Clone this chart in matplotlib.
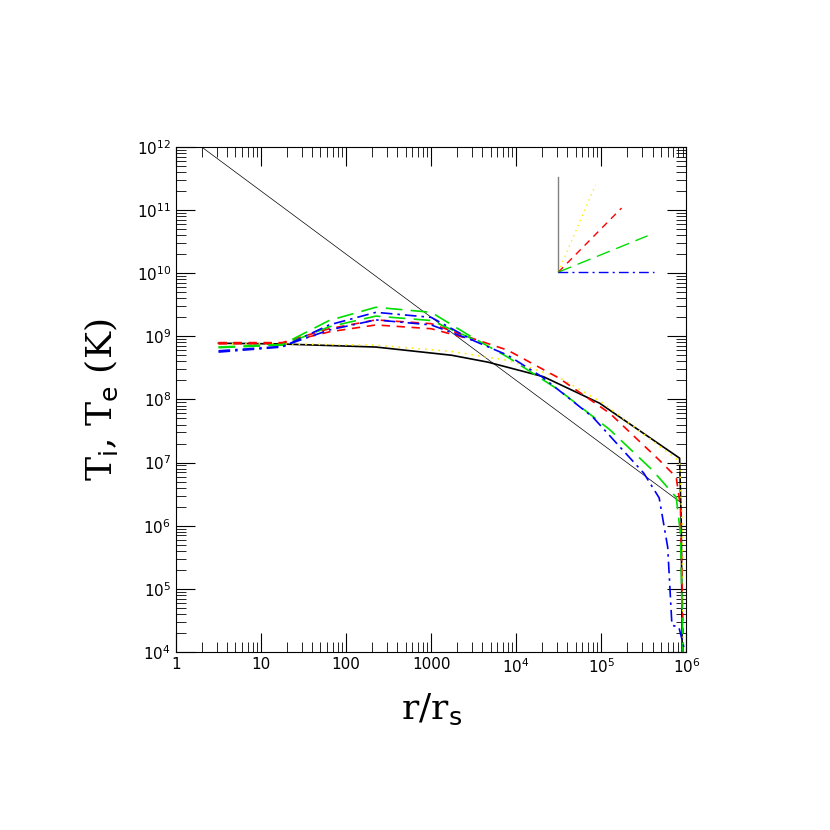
import numpy as np
import matplotlib
matplotlib.use("Agg")
import matplotlib.pyplot as plt
from matplotlib.ticker import LogLocator, FixedLocator, NullFormatter

# log10(r/rs), log10(T)
black_lr = [0.5, 1.2, 2.35, 3.24, 3.67, 4.32, 4.98, 5.92, 5.94, 5.95]
black_lT = [8.89, 8.88, 8.83, 8.70, 8.59, 8.36, 7.94, 7.07, 6.0, 4.0]
yellow_lr = [0.5, 1.2, 2.35, 3.24, 3.9, 4.5, 5.0, 5.92, 5.95, 5.96]
yellow_lT = [8.88, 8.88, 8.86, 8.76, 8.62, 8.35, 7.96, 7.02, 6.0, 4.1]
red1_lr = [0.5, 1.25, 1.8, 2.35, 3.0, 3.5, 3.9, 4.5, 5.1, 5.68, 5.88, 5.93, 5.96]
red1_lT = [8.90, 8.90, 9.12, 9.26, 9.20, 8.96, 8.78, 8.34, 7.78, 7.04, 6.77, 6.3, 4.3]
red2_lr = [0.5, 1.25, 1.8, 2.35, 3.0, 3.5]
red2_lT = [8.88, 8.89, 9.07, 9.18, 9.12, 8.94]
green1_lr = [0.5, 1.25, 1.8, 2.35, 3.0, 3.5, 3.9, 4.5, 5.1, 5.6, 5.88, 5.93, 5.96]
green1_lT = [8.83, 8.87, 9.25, 9.46, 9.38, 8.97, 8.67, 8.15, 7.52, 6.88, 6.45, 5.88, 4.0]
green2_lr = [0.5, 1.25, 1.8, 2.35, 3.0, 3.5]
green2_lT = [8.82, 8.86, 9.15, 9.32, 9.25, 8.95]
blue1_lr = [0.5, 1.25, 1.8, 2.35, 3.0, 3.5, 3.9, 4.3, 4.9, 5.5, 5.68, 5.78, 5.83, 5.91, 5.97]
blue1_lT = [8.75, 8.83, 9.18, 9.38, 9.30, 8.93, 8.70, 8.36, 7.72, 6.83, 6.44, 5.66, 4.42, 4.40, 4.08]
blue2_lr = [0.5, 1.25, 1.8, 2.35, 3.0, 3.5]
blue2_lT = [8.77, 8.84, 9.10, 9.26, 9.18, 8.93]
thin_r = [2.0, 8.7e5]
thin_T = [1e12, 2.3e6]

xticks = [1, 10, 100, 1000, 1e4, 1e5, 1e6]
xlabels = ["1", "10", "100", "1000", "$10^4$", "$10^5$", "$10^6$"]
yticks = [10.0**k for k in range(4, 13)]
ylabels = ["$10^{%d}$" % k for k in range(4, 13)]

plt.rcParams['font.family'] = ['DejaVu Sans']
fig = plt.figure(figsize=(8.3, 8.3), dpi=100)
ax = fig.add_axes([0.212, 0.2145, 0.615, 0.6085])

def P(lr, lT, **kw):
    ax.plot(10.0**np.array(lr), 10.0**np.array(lT), **kw)

ax.plot(thin_r, thin_T, color="black", lw=0.5)
P(black_lr, black_lT, color="black", lw=1.2)
P(yellow_lr, yellow_lT, color="#ffee00", lw=1.2, ls=(0, (1, 3)))
P(red1_lr, red1_lT, color="red", lw=1.2, ls=(0, (5, 4)))
P(red2_lr, red2_lT, color="red", lw=1.2, ls=(0, (5, 4)))
P(green1_lr, green1_lT, color="#00dd00", lw=1.2, ls=(0, (10, 5)))
P(green2_lr, green2_lT, color="#00dd00", lw=1.2, ls=(0, (10, 5)))
P(blue1_lr, blue1_lT, color="blue", lw=1.2, ls=(0, (7, 3, 1.5, 3)))
P(blue2_lr, blue2_lT, color="blue", lw=1.2, ls=(0, (7, 3, 1.5, 3)))

# legend-like fan
ox, oy = 0.749, 0.752
T = ax.transAxes
ax.plot([ox, ox], [oy, 0.941], color="gray", lw=1, transform=T)
ax.plot([ox, 0.822], [oy, 0.925], color="#ffee00", lw=1, ls=(0, (1, 3)), transform=T)
ax.plot([ox, 0.873], [oy, 0.879], color="red", lw=1, ls=(0, (5, 4)), transform=T)
ax.plot([ox, 0.924], [oy, 0.824], color="#00dd00", lw=1, ls=(0, (10, 5)), transform=T)
ax.plot([ox, 0.937], [oy, oy], color="blue", lw=1, ls=(0, (7, 3, 1.5, 3)), transform=T)

ax.set_xscale("log"); ax.set_yscale("log")
ax.set_xlim(1, 1e6); ax.set_ylim(1e4, 1e12)
ax.xaxis.set_major_locator(FixedLocator(xticks))
ax.set_xticklabels(xlabels)
ax.yaxis.set_major_locator(FixedLocator(yticks))
ax.set_yticklabels(ylabels)
ax.xaxis.set_minor_locator(LogLocator(base=10, subs=np.arange(2, 10), numticks=20))
ax.yaxis.set_minor_locator(LogLocator(base=10, subs=np.arange(2, 10), numticks=20))
ax.xaxis.set_minor_formatter(NullFormatter()); ax.yaxis.set_minor_formatter(NullFormatter())
ax.tick_params(which="both", direction="in", top=True, right=True, labelsize=11)
ax.tick_params(which="major", length=14)
ax.tick_params(which="minor", length=7)
ax.set_xlabel("r/r$_\\mathrm{s}$", fontsize=26, family="DejaVu Serif", labelpad=12)
ax.set_ylabel("T$_\\mathrm{i}$, T$_\\mathrm{e}$ (K)", fontsize=26, family="DejaVu Serif", labelpad=12)
fig.savefig("out.png", dpi=100)
